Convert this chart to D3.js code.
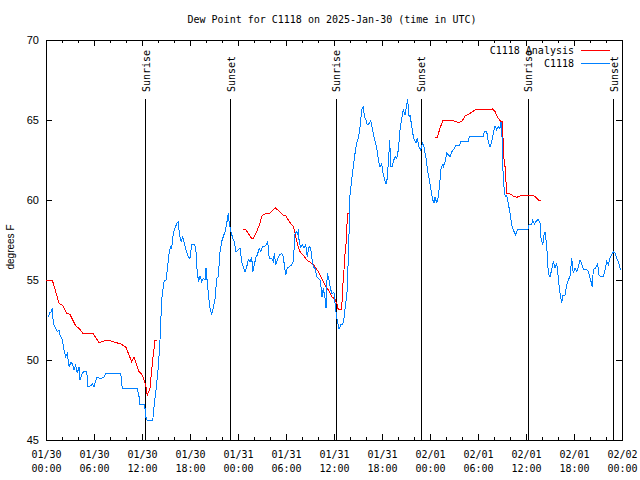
<!DOCTYPE html>
<html><head><meta charset="utf-8">
<script src="https://cdn.jsdelivr.net/npm/d3@7"></script>
<style>body{margin:0;background:#fff}</style>
</head><body><svg id="c" width="640" height="480"></svg>
<script>
const titleText = "Dew Point for C1118 on 2025-Jan-30 (time in UTC)";
const yLabel = "degrees F";
const startTime = Date.UTC(2025, 0, 30, 0, 0);
const endTime = Date.UTC(2025, 1, 2, 0, 0);
const yTicks = [45, 50, 55, 60, 65, 70];
const seriesNames = ["C1118 Analysis", "C1118"];
const sunLabels = ["Sunrise", "Sunset", "Sunrise", "Sunset", "Sunrise", "Sunset"];
const sunHours = [12.45, 23.1, 36.3, 46.9, 60.3, 70.95];

// observed (blue) — hours since 01/30 00:00 UTC
const obsHours = [
0.25,0.5,0.66,0.79,0.91,1.21,1.41,1.63,1.75,2.04,
2.25,2.46,2.66,2.88,3.09,3.29,3.5,3.71,3.91,4.13,
4.25,4.54,4.75,5.09,5.25,5.59,5.79,6.0,6.34,6.84,
7.25,7.5,9.34,9.54,11.41,11.63,11.75,12.34,12.46,12.66,
13.34,13.5,13.75,14.04,14.25,14.46,14.66,14.79,15.0,15.16,
15.41,15.59,15.71,15.91,16.13,16.34,16.54,16.66,16.88,17.09,
17.29,17.5,17.79,18.0,18.21,18.5,18.71,18.91,19.09,19.25,
19.46,19.66,19.88,20.0,20.21,20.38,20.5,20.71,20.91,21.13,
21.34,21.54,21.75,21.96,22.16,22.38,22.59,22.79,22.91,23.13,
23.34,23.54,23.75,24.04,24.25,24.46,24.66,24.88,25.09,25.29,
25.5,25.71,25.84,26.04,26.25,26.41,26.66,26.84,27.04,27.29,
27.5,27.71,27.91,28.21,28.41,28.54,28.71,28.91,29.16,29.46,
29.66,29.79,29.96,30.16,30.41,30.71,30.91,31.13,31.34,31.46,
31.54,31.66,31.84,32.04,32.25,32.46,32.66,32.88,33.09,33.21,
33.41,33.63,33.84,34.04,34.25,34.38,34.5,34.66,34.88,35.0,
35.16,35.34,35.5,35.71,36.0,36.13,36.25,36.41,36.63,36.84,
37.09,37.25,37.46,37.66,37.88,38.0,38.21,38.41,38.63,38.84,
39.04,39.25,39.46,39.66,39.79,40.0,40.16,40.38,40.59,40.79,
41.0,41.21,41.41,41.63,41.75,41.96,42.09,42.29,42.5,42.66,
42.84,42.96,43.09,43.25,43.41,43.63,43.84,44.04,44.25,44.46,
44.66,44.88,45.09,45.21,45.38,45.5,45.63,45.84,46.04,46.25,
46.41,46.63,46.84,47.09,47.25,47.5,47.66,47.91,48.09,48.29,
48.5,48.63,48.84,49.04,49.25,49.38,49.54,49.66,49.88,50.09,
50.29,50.5,50.71,50.91,51.21,51.66,51.84,52.79,52.91,54.66,
54.79,55.09,55.29,55.5,55.71,55.91,56.13,56.34,56.54,56.75,
56.88,57.0,57.09,57.25,57.41,57.59,57.79,58.0,58.21,58.41,
58.71,58.91,60.21,60.38,60.71,60.84,61.04,61.25,61.54,61.75,
61.88,62.09,62.25,62.38,62.5,62.63,62.79,63.0,63.21,63.41,
63.63,63.84,63.96,64.13,64.25,64.46,64.59,64.88,65.09,65.29,
65.5,65.71,65.91,66.13,66.34,66.54,66.75,66.96,67.16,67.59,
67.79,68.13,68.29,68.41,68.63,68.96,69.13,69.38,69.66,69.88,
70.09,70.29,70.5,70.71,70.91,71.13,71.34,71.54,71.75,71.88];
const obsValues = [
52.67,52.96,53.02,53.23,52.29,51.98,51.77,51.88,51.56,51.25,
50.63,50.21,50.42,49.58,49.83,49.79,49.38,49.69,49.17,49.58,
48.75,49.17,49.31,49.31,48.33,48.38,48.54,48.33,48.92,48.85,
48.92,49.17,49.17,48.19,48.19,47.71,47.19,47.19,46.46,46.21,
46.21,47.08,48.13,49.58,51.25,53.75,54.58,55.0,55.0,55.63,
56.77,57.08,56.98,57.92,58.23,58.54,58.65,57.92,57.4,57.71,
57.29,56.88,56.46,56.35,57.19,57.23,57.08,55.42,54.9,55.25,
54.9,55.1,55.0,55.73,54.58,53.75,53.23,52.88,53.23,53.85,
55.1,55.21,56.77,57.4,57.71,58.02,58.54,59.17,58.54,58.02,
57.6,57.4,56.77,56.88,56.98,56.15,55.83,55.52,55.83,56.25,
56.15,56.46,55.52,55.94,56.46,56.56,56.98,56.77,57.08,57.08,
57.19,57.4,56.35,56.35,56.15,56.67,55.94,56.25,56.56,56.67,
56.46,55.94,55.31,55.73,55.83,55.94,56.15,57.92,58.02,57.81,
58.17,57.29,57.08,57.19,56.98,57.19,56.46,57.08,56.98,56.46,
55.83,55.73,55.21,55.1,55.0,54.58,53.96,54.48,53.85,53.23,
55.42,55.1,54.6,54.17,54.21,53.54,53.02,52.46,51.92,52.19,
52.19,52.6,53.54,54.38,57.92,60.31,61.25,62.08,62.92,63.58,
63.85,64.58,65.63,65.88,65.21,65.0,64.69,64.79,64.96,64.48,
63.96,63.54,63.02,62.29,62.08,62.29,61.77,61.35,61.0,61.35,
62.71,63.75,62.08,62.08,62.4,62.71,62.6,63.13,64.38,65.1,
65.63,65.31,65.94,66.29,65.21,65.31,64.9,64.17,63.75,63.54,
63.85,63.33,63.13,63.58,63.33,62.6,61.98,61.25,60.73,60.1,
59.79,60.21,59.79,60.21,61.25,61.98,62.19,62.08,62.4,62.92,
62.81,62.71,63.02,63.13,63.38,63.38,63.65,63.65,63.96,63.96,
64.27,64.27,63.65,63.33,63.65,64.17,64.63,64.38,64.58,64.48,
64.9,63.96,62.08,60.83,60.21,60.31,59.79,59.17,58.44,58.13,
57.81,58.13,58.13,58.44,58.44,58.75,58.5,58.65,58.79,58.54,
57.6,57.19,57.81,58.02,57.5,56.77,55.42,55.21,55.63,56.15,
55.73,56.04,55.52,54.69,54.17,53.54,54.06,54.06,54.69,55.0,
55.21,56.35,55.42,55.73,55.52,55.79,56.25,56.04,55.67,55.67,
55.52,54.9,54.58,55.63,55.73,56.0,55.31,55.21,55.21,55.63,
56.15,55.94,56.35,56.56,56.77,56.67,56.35,56.15,55.73,55.63];

// analysis (red) — null marks a gap
const anaHours = [
0,0.79,1.21,1.63,2.04,2.59,3.0,3.71,4.13,4.66,
5.91,6.63,7.04,7.59,8.09,9.34,9.96,10.38,10.71,11.0,
11.63,12.04,12.46,12.66,13.0,13.33,13.63,13.91, 18,
24.67,25.0,25.41,25.71,25.92,26.34,26.75,26.96,27.38,28.0,
28.63,29.25,29.59,30.0,30.41,30.92,31.13,31.46,31.75,32.16,
32.59,33.21,33.63,34.04,34.46,34.88,35.29,35.71,36.13,36.41,
36.54,36.96,37.09,37.25,37.38,37.59,37.66,37.88, 42,
48.63,48.91,49.25,49.59,50.09,50.91,51.54,51.96,52.38,53.0,
53.63,55.29,55.84,56.13,56.54,56.84,57.09,57.16,57.38,57.59,
58.0,58.41,58.84,59.25,59.66,60.29,60.71,61.13,61.54,61.88];
const anaValues = [
55.0,55.0,54.27,53.54,53.44,52.92,52.85,52.13,51.98,51.63,
51.63,51.08,51.15,51.23,51.19,51.0,50.83,50.31,49.9,50.17,
49.27,49.06,48.44,47.8,48.23,50.0,51.25,51.25, null,
58.17,58.13,57.81,57.6,57.6,58.02,58.54,59.0,59.13,59.17,
59.52,59.27,59.06,59.0,58.65,58.33,57.92,57.19,56.77,56.56,
56.25,56.04,55.83,55.52,55.1,54.69,54.38,53.96,53.79,53.44,
53.13,53.13,54.58,55.63,56.67,57.71,59.17,59.17, null,
63.92,63.92,64.48,64.96,65.0,64.96,64.85,64.9,65.25,65.42,
65.63,65.63,65.69,65.52,65.1,64.9,64.9,62.92,62.08,60.42,
60.38,60.25,60.17,60.25,60.27,60.31,60.31,60.21,60.0,59.96];

const colors = ["#ff0000", "#0080ff"];
const mono = "'DejaVu Sans Mono', 'Liberation Mono', monospace";
const sans = "'Liberation Sans', Arial, sans-serif";

const svg = d3.select("#c");
const L = 46, R = 622, T = 40, B = 440;
const toDate = h => new Date(startTime + h * 3600000);
const x = d3.scaleUtc().domain([new Date(startTime), new Date(endTime)]).range([L, R]);
const y = d3.scaleLinear().domain([45, 70]).range([B, T]);

svg.append("rect").attr("width", 640).attr("height", 480).attr("fill", "#fff");

// title
svg.append("text").attr("x", 332).attr("y", 23).attr("text-anchor", "middle")
  .style("font-family", mono).style("font-size", "10px").text(titleText);

// axes
const majorTicks = d3.utcHour.every(6).range(new Date(startTime), new Date(endTime + 1));
const minorTicks = d3.utcHour.every(2).range(new Date(startTime), new Date(endTime + 1));

function styleAxis(g) {
  g.select(".domain").remove();
  g.selectAll("line").attr("stroke", "#000").attr("shape-rendering", "crispEdges");
}
svg.append("g").attr("transform", `translate(0,${B})`)
  .call(d3.axisBottom(x).tickValues(minorTicks).tickSize(-3).tickFormat(""))
  .call(styleAxis);
svg.append("g").attr("transform", `translate(0,${T})`)
  .call(d3.axisTop(x).tickValues(minorTicks).tickSize(-3).tickFormat(""))
  .call(styleAxis);
svg.append("g").attr("transform", `translate(0,${T})`)
  .call(d3.axisTop(x).tickValues(majorTicks).tickSize(-6).tickFormat(""))
  .call(styleAxis);
const fmtD = d3.utcFormat("%m/%d"), fmtT = d3.utcFormat("%H:%M");
const xb = svg.append("g").attr("transform", `translate(0,${B})`)
  .call(d3.axisBottom(x).tickValues(majorTicks).tickSize(-6).tickPadding(0).tickFormat(""))
  .call(styleAxis);
xb.selectAll(".tick").each(function(d) {
  const t = d3.select(this).append("text").attr("fill", "#000").attr("text-anchor", "middle")
    .style("font-family", mono).style("font-size", "10px");
  t.append("tspan").attr("x", 0).attr("y", 18).text(fmtD(d));
  t.append("tspan").attr("x", 0).attr("y", 32).text(fmtT(d));
});

const yl = svg.append("g").attr("transform", `translate(${L},0)`)
  .call(d3.axisLeft(y).tickValues(yTicks).tickSize(-6).tickPadding(7).tickFormat(d3.format("d")))
  .call(styleAxis);
yl.selectAll("text").style("font-family", sans).style("font-size", "11px").attr("fill", "#000");
svg.append("g").attr("transform", `translate(${R},0)`)
  .call(d3.axisRight(y).tickValues(yTicks).tickSize(-6).tickFormat(""))
  .call(styleAxis);

svg.append("text").attr("transform", "translate(14,247) rotate(-90)").attr("text-anchor", "middle")
  .style("font-family", sans).style("font-size", "10px").text(yLabel);

// border
svg.append("rect").attr("x", L).attr("y", T).attr("width", R - L).attr("height", B - T)
  .attr("fill", "none").attr("stroke", "#000").attr("shape-rendering", "crispEdges");

// sunrise / sunset
sunHours.forEach((h, i) => {
  const sx = x(toDate(h));
  svg.append("line").attr("x1", sx).attr("x2", sx).attr("y1", 99).attr("y2", B)
    .attr("stroke", "#000").attr("shape-rendering", "crispEdges");
  svg.append("text").attr("transform", `translate(${sx + 4},92) rotate(-90)`)
    .style("font-family", mono).style("font-size", "10px").text(sunLabels[i]);
});

// data lines
const line = d3.line().defined(d => d[1] != null).x(d => x(toDate(d[0]))).y(d => y(d[1]));
const obs = obsHours.map((h, i) => [h, obsValues[i]]);
const ana = anaHours.map((h, i) => [h, anaValues[i]]);
svg.append("path").datum(ana).attr("d", line).attr("fill", "none")
  .attr("stroke", colors[0]).attr("stroke-width", 1).attr("shape-rendering", "crispEdges");
svg.append("path").datum(obs).attr("d", line).attr("fill", "none")
  .attr("stroke", colors[1]).attr("stroke-width", 1).attr("shape-rendering", "crispEdges");

// legend
[50, 63].forEach((ly, i) => {
  svg.append("text").attr("x", 574).attr("y", ly + 4).attr("text-anchor", "end")
    .style("font-family", mono).style("font-size", "10px").text(seriesNames[i]);
  svg.append("line").attr("x1", 581).attr("x2", 610).attr("y1", ly).attr("y2", ly)
    .attr("stroke", colors[i]).attr("shape-rendering", "crispEdges");
});
</script></body></html>
